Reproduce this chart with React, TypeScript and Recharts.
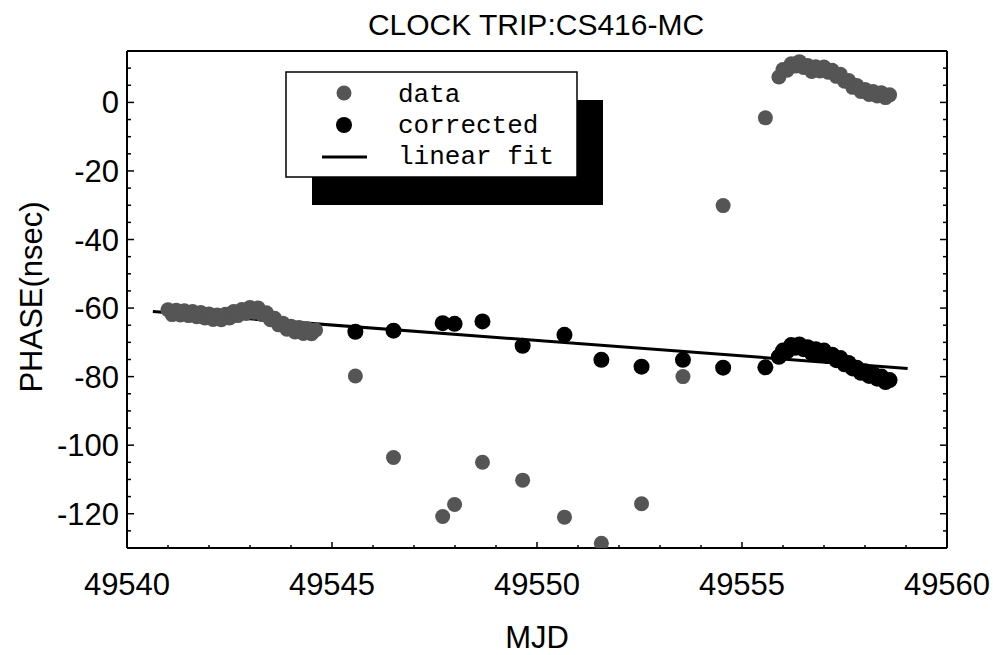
import React from "react";
import { ComposedChart, Scatter, Line, XAxis, YAxis } from "recharts";

// axis ticks
const xTicks = [
  49540, 49541, 49542, 49543, 49544, 49545, 49546, 49547, 49548, 49549, 49550,
  49551, 49552, 49553, 49554, 49555, 49556, 49557, 49558, 49559, 49560,
];
const xLabels = [49540, 49545, 49550, 49555, 49560];
const yTicks = [
  15, 10, 5, 0, -5, -10, -15, -20, -25, -30, -35, -40, -45, -50, -55, -60, -65,
  -70, -75, -80, -85, -90, -95, -100, -105, -110, -115, -120, -125, -130,
];
const yLabels = [0, -20, -40, -60, -80, -100, -120];

// before the trip: data only
const leftRunMjd = [
  49541.0, 49541.1, 49541.2, 49541.3, 49541.4, 49541.5, 49541.6, 49541.7, 49541.8,
  49541.9, 49542.0, 49542.1, 49542.2, 49542.3, 49542.4, 49542.5, 49542.6, 49542.7,
  49542.8, 49542.9, 49543.0, 49543.1, 49543.2, 49543.3, 49543.4, 49543.5, 49543.6,
  49543.7, 49543.8, 49543.9, 49544.0, 49544.1, 49544.2, 49544.3, 49544.4, 49544.5,
  49544.6,
];
const leftRunPhase = [
  -60.5, -61.9, -60.6, -62.0, -60.8, -62.2, -61.0, -62.5, -61.3, -62.9, -61.7, -63.3,
  -62.0, -63.4, -61.8, -62.9, -61.0, -62.2, -60.4, -61.6, -59.8, -61.2, -60.0, -61.9,
  -61.4, -63.4, -63.0, -64.9, -64.4, -66.2, -65.3, -67.0, -65.7, -67.4, -66.0, -67.5,
  -66.4,
];

// single measurements during the trip
const tripMjd = [
  49545.57, 49546.5, 49547.7, 49547.99, 49548.67, 49549.65, 49550.67, 49551.57,
  49552.55, 49553.56, 49554.54, 49555.57,
];
const tripDataPhase = [
  -79.8, -103.6, -120.8, -117.3, -105.0, -110.2, -121.0, -128.6, -117.1, -80.0, -30.1, -4.5,
];
const tripCorrPhase = [
  -66.9, -66.6, -64.4, -64.6, -63.9, -71.0, -67.8, -75.1, -77.1, -75.1, -77.4, -77.3,
];

// after the trip
const rightRunMjd = [
  49555.9, 49556.0, 49556.1, 49556.2, 49556.3, 49556.4, 49556.5, 49556.6, 49556.7,
  49556.8, 49556.9, 49557.0, 49557.1, 49557.2, 49557.3, 49557.4, 49557.5, 49557.6,
  49557.7, 49557.8, 49557.9, 49558.0, 49558.1, 49558.2, 49558.3, 49558.4, 49558.5,
  49558.6,
];
const rightDataPhase = [
  7.4, 9.6, 9.4, 11.3, 10.6, 11.9, 10.2, 10.8, 9.0, 10.4, 9.2, 10.3, 8.8, 9.4, 7.6,
  8.2, 6.2, 6.4, 4.4, 4.9, 3.2, 3.8, 2.3, 3.2, 1.9, 2.8, 1.4, 2.2,
];
const rightCorrPhase = [
  -74.2, -72.4, -72.6, -70.8, -71.6, -70.6, -72.0, -71.4, -73.1, -72.0, -73.4, -72.4,
  -74.0, -73.6, -75.2, -74.6, -76.4, -76.0, -77.6, -77.4, -78.9, -78.4, -79.8, -79.2,
  -80.6, -80.0, -81.6, -81.0,
];

const fitMjd = [49540.63, 49559.04];
const fitPhase = [-61.0, -77.6];

const pts = (xs: number[], ys: number[]) => xs.map((x, i) => ({ x, y: ys[i] }));

const dataPts = [
  ...pts(leftRunMjd, leftRunPhase),
  ...pts(tripMjd, tripDataPhase),
  ...pts(rightRunMjd, rightDataPhase),
];
const corrPts = [...pts(tripMjd, tripCorrPhase), ...pts(rightRunMjd, rightCorrPhase)];
const fitPts = pts(fitMjd, fitPhase);

const SANS = "'Liberation Sans', Arial, Helvetica, sans-serif";
const MONO = "'Liberation Mono', 'Courier New', monospace";
const GRAY = "#555";

function BottomTick({ x, y, payload }: any) {
  const major = xLabels.includes(payload.value);
  return (
    <g>
      <line x1={x} y1={y} x2={x} y2={y - (major ? 6 : 3)} stroke="#000" strokeWidth={1.5} />
      {major && (
        <text x={x} y={y + 47} textAnchor="middle" fontSize={31} fontFamily={SANS} fill="#000">
          {payload.value}
        </text>
      )}
    </g>
  );
}

function TopTick({ x, y, payload }: any) {
  const major = xLabels.includes(payload.value);
  return <line x1={x} y1={y} x2={x} y2={y + (major ? 6 : 3)} stroke="#000" strokeWidth={1.5} />;
}

function LeftTick({ x, y, payload }: any) {
  const major = yLabels.includes(payload.value);
  return (
    <g>
      <line x1={x} y1={y} x2={x + (major ? 7 : 4)} y2={y} stroke="#000" strokeWidth={1.5} />
      {major && (
        <text x={x - 8} y={y + 11} textAnchor="end" fontSize={31} fontFamily={SANS} fill="#000">
          {payload.value}
        </text>
      )}
    </g>
  );
}

function RightTick({ x, y, payload }: any) {
  const major = yLabels.includes(payload.value);
  return <line x1={x} y1={y} x2={x - (major ? 7 : 4)} y2={y} stroke="#000" strokeWidth={1.5} />;
}

const axisLine = { stroke: "#000", strokeWidth: 2 };

export default function App() {
  return (
    <div style={{ position: "fixed", left: 0, top: 0, width: 993, height: 655, background: "#fff" }}>
      <ComposedChart width={993} height={655} margin={{ top: 50, right: 45, bottom: 106, left: 126 }}>
        <XAxis
          xAxisId="main"
          dataKey="x"
          type="number"
          domain={[49540, 49560]}
          ticks={xTicks}
          interval={0}
          allowDataOverflow
          height={1}
          tickSize={0}
          tickMargin={0}
          tickLine={false}
          axisLine={axisLine}
          tick={BottomTick}
        />
        <XAxis
          xAxisId="top"
          orientation="top"
          type="number"
          domain={[49540, 49560]}
          ticks={xTicks}
          interval={0}
          allowDataOverflow
          height={1}
          tickSize={0}
          tickMargin={0}
          tickLine={false}
          axisLine={axisLine}
          tick={TopTick}
        />
        <YAxis
          yAxisId="main"
          dataKey="y"
          type="number"
          domain={[-130, 15]}
          ticks={yTicks}
          interval={0}
          allowDataOverflow
          width={1}
          tickSize={0}
          tickMargin={0}
          tickLine={false}
          axisLine={axisLine}
          tick={LeftTick}
        />
        <YAxis
          yAxisId="right"
          orientation="right"
          type="number"
          domain={[-130, 15]}
          ticks={yTicks}
          interval={0}
          allowDataOverflow
          width={1}
          tickSize={0}
          tickMargin={0}
          tickLine={false}
          axisLine={axisLine}
          tick={RightTick}
        />
        <Scatter
          xAxisId="main"
          yAxisId="main"
          data={corrPts}
          isAnimationActive={false}
          shape={(p: any) => <circle cx={p.cx} cy={p.cy} r={8} fill="#000" />}
        />
        <Scatter
          xAxisId="main"
          yAxisId="main"
          data={dataPts}
          isAnimationActive={false}
          shape={(p: any) => <circle cx={p.cx} cy={p.cy} r={7.5} fill={GRAY} />}
        />
        <Line
          xAxisId="main"
          yAxisId="main"
          data={fitPts}
          dataKey="y"
          type="linear"
          stroke="#000"
          strokeWidth={3}
          dot={false}
          activeDot={false}
          isAnimationActive={false}
        />
      </ComposedChart>

      <svg
        width={993}
        height={655}
        style={{ position: "absolute", left: 0, top: 0, pointerEvents: "none" }}
      >
        <text x={536} y={35} textAnchor="middle" fontSize={30} fontFamily={SANS}>
          CLOCK TRIP:CS416-MC
        </text>
        <text x={537} y={648} textAnchor="middle" fontSize={31} fontFamily={SANS}>
          MJD
        </text>
        <text transform="translate(42,297) rotate(-90)" textAnchor="middle" fontSize={31} fontFamily={SANS}>
          PHASE(nsec)
        </text>

        {/* legend */}
        <rect x={312} y={100} width={291} height={105} fill="#000" />
        <rect x={286} y={72} width={291} height={105} fill="#fff" stroke="#000" strokeWidth={1.5} />
        <circle cx={344} cy={93} r={7.5} fill={GRAY} />
        <circle cx={344} cy={125} r={8} fill="#000" />
        <line x1={322} y1={157} x2={367} y2={157} stroke="#000" strokeWidth={3} />
        <text x={398} y={102} fontSize={26} fontFamily={MONO}>data</text>
        <text x={398} y={133} fontSize={26} fontFamily={MONO}>corrected</text>
        <text x={398} y={164} fontSize={26} fontFamily={MONO}>linear fit</text>
      </svg>
    </div>
  );
}
